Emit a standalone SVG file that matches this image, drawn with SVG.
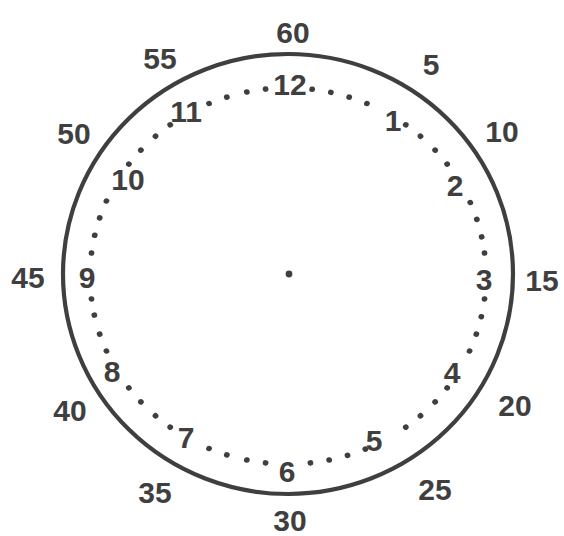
<svg xmlns="http://www.w3.org/2000/svg" xmlns:xlink="http://www.w3.org/1999/xlink" width="564" height="536" viewBox="0 0 564 536">
<style>
text{font-family:"Liberation Sans",Arial,sans-serif;font-weight:bold;font-size:30px;fill:#3f3f3f;text-anchor:middle}
.dot{fill:#3f3f3f}
</style>
<defs><circle id="d" cx="0" cy="-198" r="2.9" class="dot"/></defs>
<rect width="564" height="536" fill="#ffffff"/>
<g id="face">
<ellipse cx="288" cy="274" rx="225" ry="220" fill="none" stroke="#3f3f3f" stroke-width="4.2"/>
<circle cx="289" cy="274" r="3.4" class="dot"/>
</g>
<g id="minute-dots" transform="translate(288 276) scale(1 0.95)">
<use xlink:href="#d" transform="rotate(7)"/><use xlink:href="#d" transform="rotate(12.5)"/><use xlink:href="#d" transform="rotate(18)"/><use xlink:href="#d" transform="rotate(23.5)"/>
<use xlink:href="#d" transform="rotate(36.5)"/><use xlink:href="#d" transform="rotate(42)"/><use xlink:href="#d" transform="rotate(48)"/><use xlink:href="#d" transform="rotate(53.5)"/>
<use xlink:href="#d" transform="rotate(67)"/><use xlink:href="#d" transform="rotate(72.5)"/><use xlink:href="#d" transform="rotate(78)"/><use xlink:href="#d" transform="rotate(83)"/>
<use xlink:href="#d" transform="rotate(97)"/><use xlink:href="#d" transform="rotate(102.5)"/><use xlink:href="#d" transform="rotate(108)"/><use xlink:href="#d" transform="rotate(113.5)"/>
<use xlink:href="#d" transform="rotate(126.5)"/><use xlink:href="#d" transform="rotate(132)"/><use xlink:href="#d" transform="rotate(138)"/><use xlink:href="#d" transform="rotate(143.5)"/>
<use xlink:href="#d" transform="rotate(157)"/><use xlink:href="#d" transform="rotate(162.5)"/><use xlink:href="#d" transform="rotate(168)"/><use xlink:href="#d" transform="rotate(173.5)"/>
<use xlink:href="#d" transform="rotate(186.5)"/><use xlink:href="#d" transform="rotate(192)"/><use xlink:href="#d" transform="rotate(198)"/><use xlink:href="#d" transform="rotate(203.5)"/>
<use xlink:href="#d" transform="rotate(216.5)"/><use xlink:href="#d" transform="rotate(222)"/><use xlink:href="#d" transform="rotate(228)"/><use xlink:href="#d" transform="rotate(233.5)"/>
<use xlink:href="#d" transform="rotate(246.5)"/><use xlink:href="#d" transform="rotate(252)"/><use xlink:href="#d" transform="rotate(258)"/><use xlink:href="#d" transform="rotate(263)"/>
<use xlink:href="#d" transform="rotate(277)"/><use xlink:href="#d" transform="rotate(282.5)"/><use xlink:href="#d" transform="rotate(288)"/><use xlink:href="#d" transform="rotate(293.5)"/>
<use xlink:href="#d" transform="rotate(306.5)"/><use xlink:href="#d" transform="rotate(312)"/><use xlink:href="#d" transform="rotate(318)"/><use xlink:href="#d" transform="rotate(323.5)"/>
<use xlink:href="#d" transform="rotate(336.5)"/><use xlink:href="#d" transform="rotate(342)"/><use xlink:href="#d" transform="rotate(348)"/><use xlink:href="#d" transform="rotate(353.5)"/>
</g>
<g id="hours">
<text x="290" y="95">12</text>
<text x="393" y="131">1</text>
<text x="455" y="196">2</text>
<text x="484" y="290">3</text>
<text x="452" y="383">4</text>
<text x="374" y="451">5</text>
<text x="287" y="482">6</text>
<text x="186" y="448">7</text>
<text x="112" y="382">8</text>
<text x="87" y="288">9</text>
<text x="128" y="190">10</text>
<text x="186" y="122">11</text>
</g>
<g id="minutes">
<text x="293" y="43">60</text>
<text x="431" y="75">5</text>
<text x="502" y="142">10</text>
<text x="542" y="291">15</text>
<text x="515" y="416">20</text>
<text x="435" y="500">25</text>
<text x="290" y="531">30</text>
<text x="155" y="503">35</text>
<text x="70" y="421">40</text>
<text x="28" y="288">45</text>
<text x="74" y="144">50</text>
<text x="160" y="69">55</text>
</g>
</svg>
